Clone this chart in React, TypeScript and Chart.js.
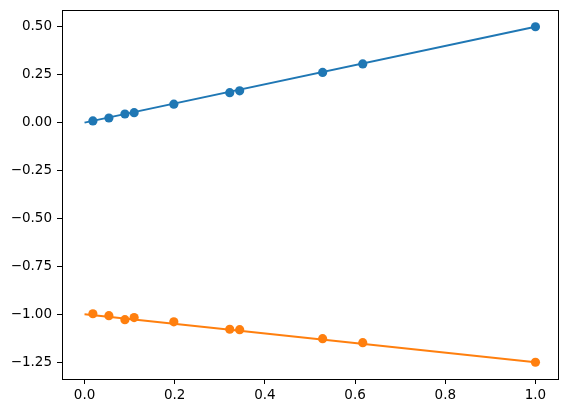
import React, { useEffect, useRef } from "react";
import { Chart, registerables } from "chart.js";

Chart.register(...registerables);

const xValues = [0.0185, 0.054, 0.0895, 0.11, 0.198, 0.322, 0.344, 0.528, 0.617, 1.0];
const blueValues = [0.009, 0.024, 0.045, 0.052, 0.096, 0.156, 0.166, 0.262, 0.306, 0.5];
const orangeValues = [-0.997, -1.007, -1.028, -1.017, -1.039, -1.078, -1.08, -1.127, -1.148, -1.25];
const lineX = [0, 1];
const blueLine = [0, 0.5];
const orangeLine = [-1, -1.25];
const xTicks = [0, 0.2, 0.4, 0.6, 0.8, 1.0];
const yTicks = [0.5, 0.25, 0, -0.25, -0.5, -0.75, -1.0, -1.25];

const BLUE = "#1f77b4";
const ORANGE = "#ff7f0e";

const frame = {
  id: "frame",
  afterDatasetsDraw(chart: any) {
    const { ctx, chartArea } = chart;
    ctx.save();
    ctx.strokeStyle = "#000";
    ctx.lineWidth = 1;
    ctx.strokeRect(
      Math.round(chartArea.left) + 0.5,
      Math.round(chartArea.top) + 0.5,
      Math.round(chartArea.right - chartArea.left),
      Math.round(chartArea.bottom - chartArea.top)
    );
    ctx.restore();
  },
};

export default function App() {
  const ref = useRef<HTMLCanvasElement>(null);
  useEffect(() => {
    if (!ref.current) return;
    const pts = (xs: number[], ys: number[]) => xs.map((x, i) => ({ x, y: ys[i] }));
    const chart = new Chart(ref.current, {
      type: "scatter",
      data: {
        datasets: [
          {
            type: "line",
            data: pts(lineX, blueLine),
            borderColor: BLUE,
            borderWidth: 2,
            pointRadius: 0,
            order: 2,
          } as any,
          {
            type: "line",
            data: pts(lineX, orangeLine),
            borderColor: ORANGE,
            borderWidth: 2,
            pointRadius: 0,
            order: 2,
          } as any,
          {
            data: pts(xValues, blueValues),
            backgroundColor: BLUE,
            borderColor: BLUE,
            borderWidth: 0,
            pointRadius: 4.6,
            order: 0,
          },
          {
            data: pts(xValues, orangeValues),
            backgroundColor: ORANGE,
            borderColor: ORANGE,
            borderWidth: 0,
            pointRadius: 4.6,
            order: 1,
          },
        ],
      },
      options: {
        animation: false,
        responsive: false,
        maintainAspectRatio: false,
        layout: { padding: { left: 0, top: 10, right: 10, bottom: 0 } },
        plugins: { legend: { display: false }, tooltip: { enabled: false } },
        scales: {
          x: {
            type: "linear",
            min: -0.05,
            max: 1.05,
            border: { display: false },
            grid: {
              drawOnChartArea: false,
              drawTicks: true,
              tickLength: 5,
              color: "#000",
              lineWidth: 1,
            },
            afterBuildTicks: (scale: any) => {
              scale.ticks = xTicks.map((v) => ({ value: v }));
            },
            afterFit: (scale: any) => {
              scale.height = 34;
              scale.paddingLeft = 0;
              scale.paddingRight = 0;
            },
            ticks: {
              color: "#000",
              padding: 3,
              font: { family: "DejaVu Sans", size: 13.5 },
              maxRotation: 0,
              autoSkip: false,
              callback: (v: any) => Number(v).toFixed(1),
            },
          },
          y: {
            type: "linear",
            min: -1.3375,
            max: 0.5875,
            border: { display: false },
            grid: {
              drawOnChartArea: false,
              drawTicks: true,
              tickLength: 5,
              color: "#000",
              lineWidth: 1,
            },
            afterBuildTicks: (scale: any) => {
              scale.ticks = yTicks.map((v) => ({ value: v }));
            },
            afterFit: (scale: any) => {
              scale.width = 62;
              scale.paddingTop = 0;
              scale.paddingBottom = 0;
            },
            ticks: {
              color: "#000",
              padding: 5,
              font: { family: "DejaVu Sans", size: 13.5 },
              autoSkip: false,
              callback: (v: any) => Number(v).toFixed(2).replace("-", "\u2212"),
            },
          },
        },
      },
      plugins: [frame],
    });
    return () => chart.destroy();
  }, []);
  return (
    <div style={{ position: "absolute", left: 0, top: 0, width: 568, height: 413, background: "#fff" }}>
      <canvas ref={ref} width={568} height={413} style={{ width: 568, height: 413 }} />
    </div>
  );
}
